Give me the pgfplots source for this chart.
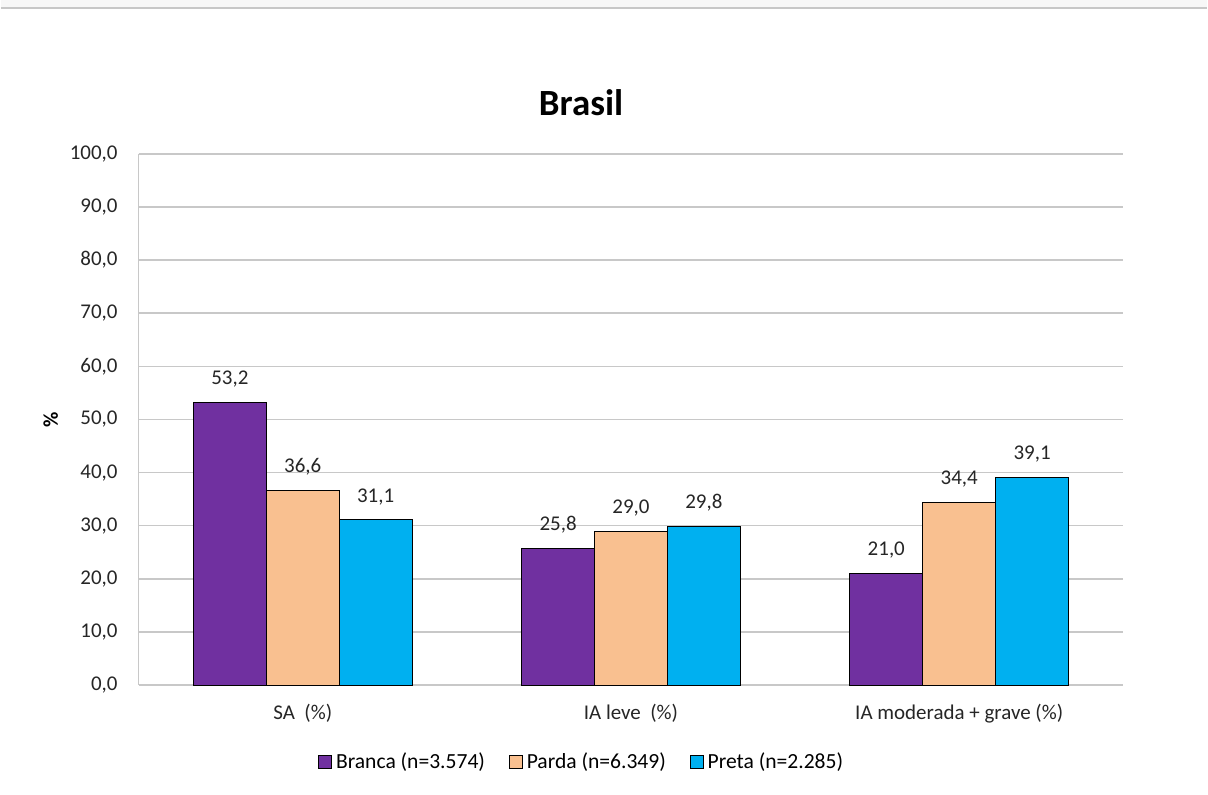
\documentclass[border=0pt]{standalone}
\usepackage{pgfplots}
\pgfplotsset{compat=1.18}
\usepackage{fontspec}
\setmainfont{Carlito}
\definecolor{cBranca}{HTML}{7030A0}
\definecolor{cParda}{HTML}{F9C090}
\definecolor{cPreta}{HTML}{00B0F0}
\definecolor{gridc}{HTML}{C8C8C8}
\begin{document}
\begin{tikzpicture}
\fill[white] (0,0) rectangle (604pt,398pt);
\fill[black!3] (0,394pt) rectangle (604pt,398pt);
\draw[black!22, line width=0.8pt] (0,394pt) -- (604pt,394pt);
\useasboundingbox (0,0) rectangle (604pt,398pt);
\node[font=\bfseries\fontsize{18.5}{20}\selectfont] at (290.5pt,346.5pt) {Brasil};
\node[font=\bfseries\fontsize{10.5}{12}\selectfont, rotate=90] at (25pt,188pt) {\%};
\begin{axis}[
  at={(69pt,55pt)}, anchor=south west,
  scale only axis, width=493pt, height=266pt,
  ybar=0pt, bar width=36.5pt,
  xmin=-0.5, xmax=2.5, ymin=0, ymax=100,
  xtick={0,1,2},
  xticklabels={SA\ \ (\%), IA leve\ \ (\%), IA moderada + grave (\%)},
  ytick={0,10,...,100},
  axis x line*=bottom, axis y line*=left,
  axis line style={draw=gridc, line width=0.8pt, -},
  ymajorgrids, grid style={draw=gridc, line width=0.8pt},
  major tick length=0pt,
  tick label style={font=\fontsize{10.5}{12}\selectfont, text=black!85},
  yticklabel style={xshift=-7pt},
  xticklabel style={yshift=-6pt},
  /pgf/number format/.cd, fixed, fixed zerofill, precision=1, use comma, assume math mode=true,
  /pgfplots/.cd,
  nodes near coords,
  nodes near coords style={font=\fontsize{10.5}{12}\selectfont, text=black!85, yshift=4pt,
     /pgf/number format/.cd, fixed, fixed zerofill, precision=1, use comma, assume math mode=true},
  every axis plot/.append style={draw=black, line width=0.5pt},
  legend style={at={(0.451,-0.145)}, anchor=center, draw=none, fill=none,
     font=\fontsize{10.8}{12}\selectfont, legend columns=3,
     /tikz/every even column/.append style={column sep=10pt},
     /tikz/every odd column/.append style={column sep=0pt}},
  legend image code/.code={\draw[#1, line width=0.5pt] (0pt,-3.2pt) rectangle (6.4pt,3.2pt);},
]
\addplot[fill=cBranca] coordinates {(0,53.2) (1,25.8) (2,21.0)};
\addplot[fill=cParda] coordinates {(0,36.6) (1,29.0) (2,34.4)};
\addplot[fill=cPreta] coordinates {(0,31.1) (1,29.8) (2,39.1)};
\legend{Branca (n=3.574), Parda (n=6.349), Preta (n=2.285)}
\end{axis}
\end{tikzpicture}
\end{document}
